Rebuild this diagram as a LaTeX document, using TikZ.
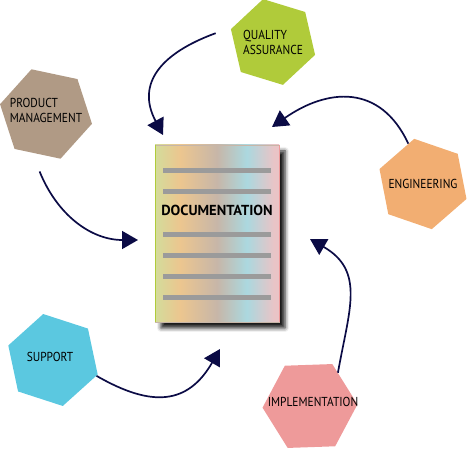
\documentclass[tikz,border=0pt]{standalone}
\usepackage{fontspec}
\setmainfont{PT Sans}
\newfontfamily\lblfont[FakeStretch=0.88]{PT Sans}
\usetikzlibrary{arrows.meta, positioning, shapes.geometric, shadows.blur}
\definecolor{qagreen}{HTML}{B0CB3A}
\definecolor{pmtaupe}{HTML}{B09A85}
\definecolor{engorange}{HTML}{F2AE72}
\definecolor{supcyan}{HTML}{5BC8E0}
\definecolor{implpink}{HTML}{EE9A9A}
\definecolor{arrownavy}{HTML}{0B0B45}
\definecolor{docgreen}{HTML}{D3DC9B}
\definecolor{docorange}{HTML}{ECC68F}
\definecolor{docgray}{HTML}{C7B6A8}
\definecolor{docblue}{HTML}{ABD8DF}
\definecolor{docpink}{HTML}{E9C4C6}
\definecolor{docline}{HTML}{9B9B9B}
\pgfdeclarehorizontalshading{docshade}{100bp}{color(0bp)=(docgreen); color(25bp)=(docgreen); color(35bp)=(docorange); color(50bp)=(docgray); color(62bp)=(docblue); color(73bp)=(docpink); color(100bp)=(docpink)}

\begin{document}
\begin{tikzpicture}[x=1pt, y=1pt,
    hexa/.style={regular polygon, regular polygon sides=6, minimum size=#1, inner sep=0pt},
    lbl/.style={font=\lblfont\fontsize{13}{15}\selectfont, align=left, inner sep=0pt},
    flow/.style={draw=arrownavy, line width=1.7pt, -{Triangle[length=16pt, width=18pt]}},
    docpage/.style={rectangle, minimum width=124, minimum height=177, shading=docshade,
        draw=docgray, line width=0.5pt,
        blur shadow={shadow xshift=6pt, shadow yshift=-6pt, shadow blur radius=4pt, shadow opacity=90}}]
    \useasboundingbox (0,0) rectangle (469,448);

    % Document page
    \node[docpage] (doc) at (217,214.5) {};
    \draw[qagreen, line width=0.5pt] (doc.north west) -- (doc.south west);
    \draw[implpink, line width=0.5pt] (doc.north east) -- (doc.south east);
    \foreach \dy in {63,42,-1,-22,-43,-64}
        \fill[docline] ([xshift=-54pt, yshift=\dy pt-2.5pt]doc.center) rectangle ++(108,5);
    \node[font=\bfseries\fontsize{14.5}{14.5}\selectfont] (doctitle) at ([yshift=22.8pt]doc.center) {DOCUMENTATION};

    % Teams
    \node[hexa=88, fill=qagreen, shape border rotate=43,
        label={[lbl]center:{QUALITY\\ASSURANCE}}] (qa) at (273,406) {};
    \node[hexa=94, fill=pmtaupe, shape border rotate=48,
        label={[lbl, yshift=4pt]center:{PRODUCT\\MANAGEMENT}}] (pm) at (46,334) {};
    \node[hexa=92, fill=engorange, shape border rotate=41,
        label={[lbl]center:{ENGINEERING}}] (eng) at (423,264) {};
    \node[hexa=94, fill=supcyan, shape border rotate=42,
        label={[lbl, xshift=-3pt, yshift=3pt]center:{SUPPORT}}] (sup) at (53,88) {};
    \node[hexa=95, fill=implpink, shape border rotate=2,
        label={[lbl, xshift=3pt, yshift=4pt]center:{IMPLEMENTATION}}] (impl) at (310,42) {};

    % Arrow ends
    \coordinate (qa-tip) at (163,313);
    \coordinate (eng-tip) at (272,321);
    \coordinate (pm-tip) at (138,208);
    \coordinate (sup-tip) at (220,99);
    \coordinate (impl-tip) at (310,209);

    % Flows into the document
    \draw[flow] ([xshift=-16pt]qa.168) to[out=200, in=118, looseness=1.3] (qa-tip);
    \draw[flow] (eng.110) to[out=115, in=35, looseness=1.25] (eng-tip);
    \draw[flow] ([yshift=-17pt]pm.261) to[out=-68, in=180] (pm-tip);
    \draw[flow] (sup.-20) to[out=-30, in=240, looseness=1.3] (sup-tip);
    \draw[flow] (impl.50) to[out=80, in=-30, looseness=1.2] (impl-tip);
\end{tikzpicture}
\end{document}
